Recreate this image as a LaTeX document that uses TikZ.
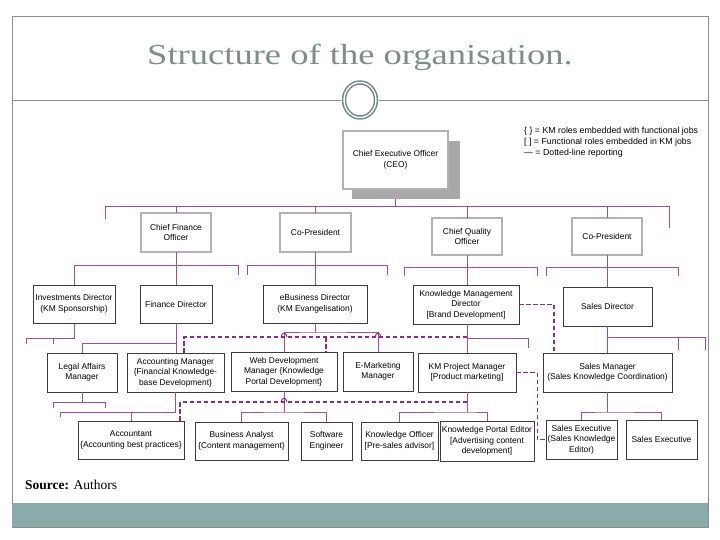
\documentclass[tikz,border=0pt]{standalone}
\usepackage{fontspec}
\setmainfont{Liberation Sans}
\newfontfamily\seriffont{Liberation Serif}
\newfontfamily\titlefont[FakeStretch=1.26]{Liberation Serif}
\definecolor{connc}{HTML}{A24BA2}
\definecolor{dashc}{HTML}{8A2C8A}
\definecolor{boxc}{HTML}{3C3C3C}
\definecolor{framec}{HTML}{8C8C8C}
\definecolor{titlec}{HTML}{7B8E8C}
\definecolor{ringc}{HTML}{6E8583}
\definecolor{bandc}{HTML}{8AABAA}
\definecolor{shadowc}{HTML}{A8A8A8}
\begin{document}
\begin{tikzpicture}[x=1pt,y=-1pt,
  conn/.style={draw=connc, line width=0.7pt},
  dotrep/.style={draw=dashc, line width=1.5pt, dash pattern=on 4.5pt off 2.5pt},
  hop/.style={draw=dashc, line width=1pt},
  sz/.style n args={2}{minimum width=#1pt, minimum height=#2pt},
  box/.style={draw=boxc, line width=0.7pt, fill=white, align=center, inner sep=1pt, font=\fontsize{8.4}{10.5}\selectfont},
  topbox/.style={box, draw=black!85, line width=0.5pt, double=gray!60, double distance=1.6pt},
  legend/.style={anchor=west, inner sep=0pt, font=\fontsize{8.8}{10}\selectfont}
]
\useasboundingbox (0,0) rectangle (720,540);
% frame
\draw[framec, line width=0.8pt] (12,16) rectangle (708,527);
\fill[bandc] (12,503) rectangle (708,527);
\draw[framec, line width=0.8pt] (12,100) -- (341,100);
\draw[framec, line width=0.8pt] (379,100) -- (708,100);
\draw[ringc, line width=1.5pt, double=white, double distance=1.4pt] (360,100) ellipse [x radius=16pt, y radius=17.5pt];
\node[text=titlec, font=\titlefont\fontsize{29}{32}\selectfont] (title) at (360,57) {Structure of the organisation.};
\node[anchor=west, font=\seriffont\fontsize{13.5}{15}\selectfont, inner sep=0pt] (src) at (25,485) {\textbf{Source:} Authors};
% legend
\node[legend] (lg1) at (524,131) {\{ \} = KM roles embedded with functional jobs};
\node[legend] (lg2) at (524,142) {{[ ]} = Functional roles embedded in KM jobs};
\node[legend] (lg3) at (524,153) {— = Dotted-line reporting};
% CEO
\fill[shadowc] (352,141) rectangle (460,199);
\node[topbox, sz={105}{58}] (ceo) at (395.5,160) {Chief Executive Officer\\(CEO)};
% level 2
\node[topbox, sz={70}{39}] (cfo) at (176,232.5) {Chief Finance\\Officer};
\node[topbox, sz={71}{39}] (cp1) at (315.5,232.5) {Co-President};
\node[topbox, sz={70}{37}] (cqo) at (467,236.5) {Chief Quality\\Officer};
\node[topbox, sz={70}{37}] (cp2) at (607,236.5) {Co-President};
% level 3
\node[box, sz={82}{38}] (inv) at (74,304) {Investments Director\\(KM Sponsorship)};
\node[box, sz={72}{38}] (fin) at (176,304) {Finance Director};
\node[box, sz={104}{38}] (ebd) at (315,304) {eBusiness Director\\(KM Evangelisation)};
\node[box, sz={106}{39}] (kmd) at (466,304.5) {Knowledge Management\\Director\\{[Brand Development]}};
\node[box, sz={89}{39}] (sd) at (607.5,306.5) {Sales Director};
% level 4
\node[box, sz={70}{39}] (lam) at (82,372.5) {Legal Affairs\\Manager};
\node[box, sz={97}{39}] (acm) at (175.5,372.5) {Accounting Manager\\\{Financial Knowledge-\\base Development\}};
\node[box, sz={106}{39}] (wdm) at (284,371.5) {Web Development\\Manager \{Knowledge\\Portal Development\}};
\node[box, sz={70}{39}] (emm) at (378,371.5) {E-Marketing\\Manager};
\node[box, sz={98}{39}] (kmpm) at (467,372.5) {KM Project Manager\\{[Product marketing]}};
\node[box, sz={129}{39}] (sm) at (607.5,372.5) {Sales Manager\\(Sales Knowledge Coordination)};
% level 5
\node[box, sz={106}{38}] (acc) at (131,440) {Accountant\\\{Accounting best practices\}};
\node[box, sz={93}{38}] (ba) at (241.5,441) {Business Analyst\\\{Content management\}};
\node[box, sz={51}{38}] (se) at (326.5,441) {Software\\Engineer};
\node[box, sz={77}{38}] (ko) at (399.5,441) {Knowledge Officer\\{[Pre-sales advisor]}};
\node[box, sz={94}{40}] (kpe) at (487,441) {Knowledge Portal Editor\\{[Advertising content}\\development]};
\node[box, sz={71}{39}] (sek) at (581.5,439.5) {Sales Executive\\(Sales Knowledge\\Editor)};
\node[box, sz={71}{39}] (sex) at (661.5,439.5) {Sales Executive};
% CEO bus
\coordinate (busL) at (105,206); \coordinate (busLt) at (105,219);
\coordinate (busR) at (669,206); \coordinate (busRt) at (669,228);
\draw[conn] (busLt) -- (busL) -- (busR) -- (busRt);
\draw[conn] ([yshift=-10pt]ceo.south) -- (ceo.south |- busL);
\foreach \n in {cfo,cp1,cqo,cp2} \draw[conn] (\n.north) -- (\n.north |- busL);
% CFO
\coordinate (cfoR) at (238,265); \coordinate (cfoRt) at (238,275);
\draw[conn] (inv.north) |- (cfoR) -- (cfoRt);
\draw[conn] (cfo.south) -- (fin.north);
% CP1
\coordinate (p1a) at (247,275); \coordinate (p1b) at (247,265);
\coordinate (p1c) at (387,265); \coordinate (p1d) at (387,275);
\draw[conn] (p1a) -- (p1b) -- (p1c) -- (p1d);
\draw[conn] (cp1.south) -- (cp1.south |- ebd.north);
% CQO
\coordinate (q1a) at (404,276); \coordinate (q1b) at (404,267);
\coordinate (q1c) at (537,267); \coordinate (q1d) at (537,276);
\draw[conn] (q1a) -- (q1b) -- (q1c) -- (q1d);
\draw[conn] (cqo.south) -- (cqo.south |- kmd.north);
% CP2
\coordinate (q2a) at (546,276); \coordinate (q2b) at (546,267);
\coordinate (q2c) at (678,267); \coordinate (q2d) at (678,276);
\draw[conn] (q2a) -- (q2b) -- (q2c) -- (q2d);
\draw[conn] (cp2.south) -- (cp2.south |- sd.north);
% investments
\coordinate (invL) at (26,338); \coordinate (invLt) at (26,344);
\coordinate (invM) at (53,338); \coordinate (invMt) at (53,344);
\draw[conn] (inv.south) |- (invL) -- (invLt);
\draw[conn] (invM) -- (invMt);
% finance
\coordinate (fj) at (176,343);
\draw[conn] (fin.south) -- (fin.south |- acm.north);
\draw[conn] (lam.north) |- (fj);
% ebusiness
\coordinate (eb) at (315,332);
\draw[conn] (ebd.south) -- (ebd.south |- eb);
\draw[conn] (wdm.north) |- (eb) -| (emm.north);
% km director
\coordinate (kj) at (528,338); \coordinate (kjt) at (528,348);
\draw[conn] (kmpm.north |- kmd.south) -- (kmpm.north);
\draw[conn] (kmpm.north |- kj) -- (kj) -- (kjt);
% sales director
\coordinate (sj) at (705,337); \coordinate (sjt) at (705,350);
\coordinate (sm2) at (678,337); \coordinate (sm2t) at (678,350);
\draw[conn] (sd.south) -- (sd.south |- sm.north);
\draw[conn] (sd.south |- sj) -- (sj) -- (sjt);
\draw[conn] (sm2) -- (sm2t);
% legal affairs
\coordinate (la) at (53,402); \coordinate (lat) at (53,408);
\coordinate (lb) at (105,402); \coordinate (lbt) at (105,408);
\draw[conn] (lam.south) -- (lam.south |- la);
\draw[conn] (lat) -- (la) -- (lb) -- (lbt);
% accounting
\coordinate (ac1) at (60,412); \coordinate (ac1t) at (60,417);
\draw[conn] (acm.south) -- (acm.south |- ac1) -- (ac1) -- (ac1t);
\draw[conn] (acc.north) -- (acc.north |- ac1);
% web dev
\coordinate (wj) at (284,412);
\draw[conn] (wdm.south) -- (wdm.south |- wj);
\draw[conn] (ba.north) |- (wj) -| (se.north);
% km project
\coordinate (kpj) at (467,412);
\draw[conn] (kmpm.south) -- (kmpm.south |- kpj);
\draw[conn] (ko.north) |- (kpj) -| (kpe.north);
% sales manager
\coordinate (smj) at (607.5,412);
\draw[conn] (sm.south) -- (sm.south |- smj);
\draw[conn] (sek.north) |- (smj) -| (sex.north);
% dotted-line reporting
\draw[dotrep] (kmd.east) -| ([xshift=-53.5pt]sm.north);
\coordinate (kd) at (467,337);
\draw[dotrep] (kd) -| ([xshift=8.5pt]acm.north);
\coordinate (kd2) at (326,337);
\draw[dotrep] (kd2) -- (kd2 |- wdm.north);
\draw[dotrep] (kmpm.east) -- ++(21pt,0) |- (sek.west);
\coordinate (kp) at (467,402);
\draw[dotrep] (kp) -| ([xshift=49pt]acc.north);
% line hops
\foreach \hx/\hy in {284/337,378/337,284/402}
  \draw[hop] (\hx-3,\hy) .. controls (\hx-2,\hy-5) and (\hx+2,\hy-5) .. (\hx+3,\hy);
\end{tikzpicture}
\end{document}
